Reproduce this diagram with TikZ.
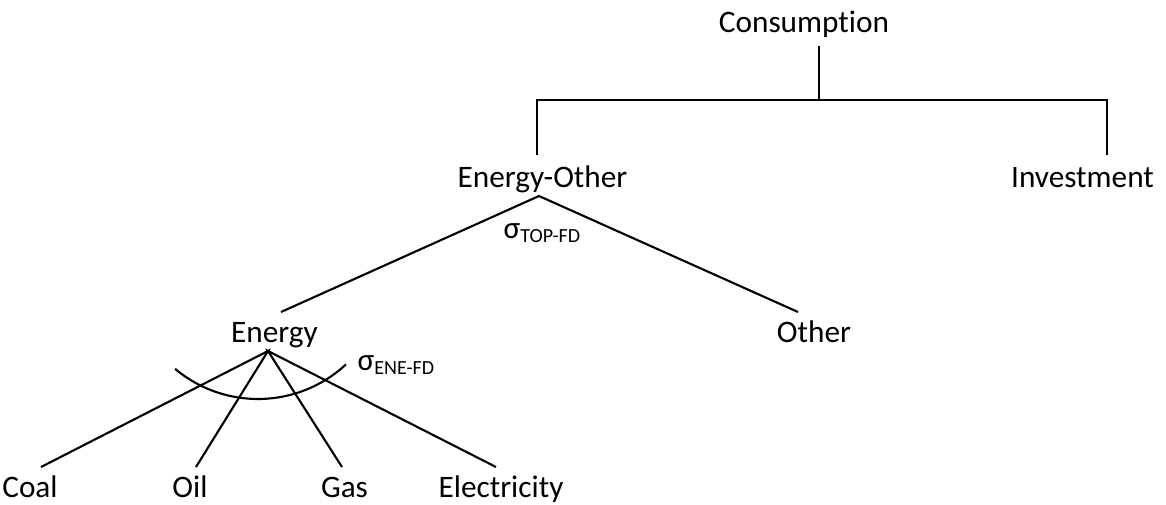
\documentclass[tikz,border=0pt]{standalone}
\usepackage{fontspec}
\setmainfont{Carlito}[Ligatures=NoCommon]
\usepackage{tikz}

\tikzset{
  lbl/.style={inner sep=0pt, anchor=base, font=\fontsize{8.9}{10.7}\selectfont},
  sig/.style={inner sep=0pt, anchor=base west, font=\fontsize{8.9}{10.7}\selectfont},
  branch/.style={line width=0.6pt},
}
\newcommand{\sigsub}[1]{σ\raisebox{-1.4pt}{\fontsize{5.7}{6.8}\selectfont #1}}

\begin{document}
\begin{tikzpicture}
    \useasboundingbox (0,0) rectangle (11.66,5.04);
    % labels
    \node[lbl] (cons) at (8.04,4.72) {Consumption};
    \node[lbl] (eo) at (5.425,3.17) {Energy-Other};
    \node[lbl] (inv) at (10.825,3.17) {Investment};
    \node[lbl] (ene) at (2.745,1.62) {Energy};
    \node[lbl] (oth) at (8.14,1.62) {Other};
    \node[lbl] (coal) at (0.30,0.07) {Coal};
    \node[lbl] (oil) at (1.90,0.07) {Oil};
    \node[lbl] (gas) at (3.445,0.07) {Gas};
    \node[lbl] (elec) at (5.01,0.07) {Electricity};
    \node[sig] (sigtop) at (5.03,2.66) {\sigsub{TOP-FD}};
    \node[sig] (sigene) at (3.57,1.34) {\sigsub{ENE-FD}};
    % line ends
    \coordinate (cons-b) at (8.19,4.58);
    \coordinate (bar) at (8.19,4.04);
    \coordinate (eo-t) at (5.37,3.49);
    \coordinate (inv-t) at (11.07,3.49);
    \coordinate (eo-b) at (5.39,3.08);
    \coordinate (ene-t) at (2.81,1.92);
    \coordinate (oth-t) at (7.98,1.92);
    \coordinate (ene-b) at (2.68,1.53);
    \coordinate (coal-t) at (0.41,0.37);
    \coordinate (oil-t) at (1.96,0.37);
    \coordinate (gas-t) at (3.42,0.37);
    \coordinate (elec-t) at (4.96,0.37);
    % top level
    \draw[branch] (cons-b) -- (bar);
    \draw[branch] (eo-t) |- (bar) -| (inv-t);
    % nests
    \draw[branch] (ene-t) -- (eo-b) -- (oth-t);
    \draw[branch] (coal-t) -- (ene-b) -- (oil-t) (gas-t) -- (ene-b) -- (elec-t);
    \draw[branch] (2.58,2.34) ++(230:1.29) arc (230:313:1.29);
\end{tikzpicture}
\end{document}
